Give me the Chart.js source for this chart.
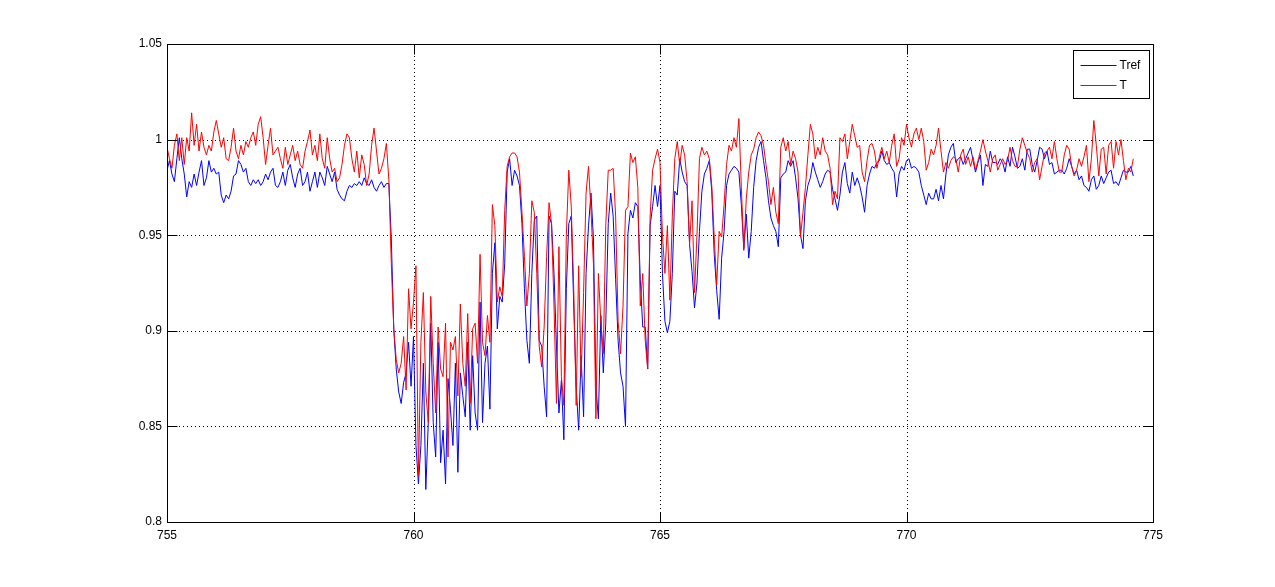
<!DOCTYPE html>
<html>
<head>
<meta charset="utf-8">
<title>Tref / T</title>
<script src="https://cdn.jsdelivr.net/npm/chart.js@4/dist/chart.umd.min.js"></script>
<style>
  html, body { margin: 0; padding: 0; background: #fff; }
  canvas { display: block; }
</style>
</head>
<body>
<canvas id="chart" width="1275" height="587"></canvas>
<script>
const xTicks = [755, 760, 765, 770, 775];
const yTicks = [0.8, 0.85, 0.9, 0.95, 1, 1.05];
const yTickLabels = ['0.8', '0.85', '0.9', '0.95', '1', '1.05'];
const seriesLabels = ['Tref', 'T'];
const seriesColors = ['#0000ff', '#ff0000'];

// samples every 0.05 starting at 755
const sampleStart = 755;
const sampleStep = 0.05;

const trefValues = [
  // 755.00 - 759.45
  0.984, 0.989, 0.982, 0.978, 0.990, 1.001, 0.990, 0.982, 0.970, 0.978,
  0.975, 0.982, 0.976, 0.983, 0.989, 0.976, 0.980, 0.989, 0.983, 0.985,
  0.982, 0.983, 0.971, 0.967, 0.971, 0.969, 0.973, 0.981, 0.982, 0.989,
  0.987, 0.983, 0.985, 0.978, 0.976, 0.979, 0.977, 0.979, 0.976, 0.978,
  0.982, 0.979, 0.983, 0.985, 0.976, 0.975, 0.978, 0.983, 0.976, 0.984,
  0.987, 0.980, 0.975, 0.982, 0.985, 0.976, 0.978, 0.983, 0.973, 0.978,
  0.983, 0.975, 0.983, 0.980, 0.976, 0.986, 0.982, 0.978, 0.983, 0.974,
  0.971, 0.969, 0.968, 0.973, 0.976, 0.975, 0.977, 0.976, 0.978, 0.976,
  0.980, 0.977, 0.976, 0.979, 0.975, 0.973, 0.976, 0.978, 0.975, 0.977,
  // 759.50 - 762.00
  0.977, 0.948, 0.901, 0.880, 0.868, 0.862, 0.873, 0.878, 0.894, 0.871,
  0.897, 0.840, 0.820, 0.840, 0.883, 0.817, 0.852, 0.904, 0.852, 0.834,
  0.894, 0.831, 0.848, 0.820, 0.875, 0.859, 0.840, 0.883, 0.826, 0.878,
  0.866, 0.855, 0.894, 0.848, 0.887, 0.857, 0.848, 0.915, 0.852, 0.883,
  0.892, 0.859, 0.930, 0.946, 0.901, 0.918, 0.915, 0.935, 0.983, 0.990,
  0.976,
  // 762.05 - 765.00
  0.984, 0.981, 0.976, 0.956, 0.922, 0.895, 0.883, 0.930, 0.958, 0.960,
  0.895, 0.892, 0.871, 0.855, 0.960, 0.956, 0.930, 0.892, 0.857, 0.874,
  0.843, 0.922, 0.956, 0.960, 0.913, 0.871, 0.848, 0.887, 0.855, 0.930,
  0.955, 0.972, 0.948, 0.871, 0.854, 0.908, 0.878, 0.904, 0.956, 0.972,
  0.960, 0.927, 0.895, 0.878, 0.871, 0.850, 0.951, 0.963, 0.959, 0.967,
  0.965, 0.927, 0.902, 0.902, 0.880, 0.955, 0.965, 0.976, 0.965, 0.976,
  // 765.05 - 768.45
  0.930, 0.905, 0.899, 0.905, 0.930, 0.973, 0.971, 0.990, 0.983, 0.978,
  0.976, 0.945, 0.931, 0.912, 0.925, 0.952, 0.973, 0.982, 0.985, 0.989,
  0.973, 0.940, 0.921, 0.906, 0.938, 0.952, 0.976, 0.982, 0.984, 0.986,
  0.985, 0.983, 0.966, 0.943, 0.961, 0.938, 0.952, 0.975, 0.989, 0.996,
  0.999, 0.989, 0.980, 0.968, 0.959, 0.955, 0.952, 0.944, 0.980, 0.982,
  0.983, 0.989, 0.986, 0.989, 0.980, 0.969, 0.950, 0.943, 0.968, 0.976,
  0.980, 0.988, 0.983, 0.979, 0.975, 0.978, 0.982, 0.984, 0.983,
  // 768.50 - 774.60
  0.974, 0.969, 0.963, 0.971, 0.983, 0.988, 0.977, 0.972, 0.983, 0.976,
  0.980, 0.976, 0.970, 0.962, 0.976, 0.982, 0.986, 0.985, 0.988, 0.989,
  0.994, 0.989, 0.987, 0.988, 0.985, 0.983, 0.970, 0.982, 0.986, 0.984,
  0.989, 0.990, 0.985, 0.986, 0.985, 0.983, 0.976, 0.971, 0.966, 0.972,
  0.969, 0.969, 0.974, 0.968, 0.976, 0.969, 0.982, 0.992, 0.996, 0.998,
  0.988, 0.990, 0.991, 0.987, 0.990, 0.993, 0.996, 0.989, 0.983, 0.988,
  0.992, 0.976, 0.987, 0.986, 0.994, 0.988, 0.988, 0.987, 0.990, 0.988,
  0.983, 0.991, 0.986, 0.996, 0.991, 0.985, 0.986, 0.990, 0.984, 0.995,
  0.995, 0.987, 0.983, 0.989, 0.996, 0.995, 0.990, 0.994, 0.987, 0.988,
  0.982, 0.983, 0.984, 0.984, 0.982, 0.985, 0.990, 0.986, 0.982, 0.984,
  0.979, 0.981, 0.976, 0.975, 0.973, 0.979, 0.981, 0.974, 0.976, 0.981,
  0.977, 0.980, 0.983, 0.984, 0.977, 0.978, 0.976, 0.980, 0.984, 0.983,
  0.983, 0.986, 0.981
];

const tValues = [
  // 755.00 - 759.45
  0.996, 0.990, 0.985, 0.997, 1.003, 0.989, 1.001, 0.987, 1.001, 0.994,
  1.014, 0.997, 1.008, 0.994, 1.004, 0.996, 0.992, 0.997, 0.994, 1.004,
  1.010, 1.003, 0.996, 1.001, 0.990, 0.989, 0.996, 1.006, 0.994, 0.990,
  0.997, 0.992, 0.999, 0.996, 1.001, 1.004, 0.997, 1.008, 1.012, 1.001,
  0.987, 0.997, 1.006, 0.992, 0.994, 0.996, 0.990, 0.985, 0.996, 0.987,
  0.992, 0.997, 0.989, 0.994, 0.987, 0.985, 0.994, 0.999, 1.005, 0.992,
  0.997, 0.989, 1.003, 0.990, 0.985, 1.001, 0.990, 0.983, 0.985, 0.978,
  0.980, 0.987, 0.997, 1.003, 1.001, 0.990, 0.983, 0.994, 0.980, 0.992,
  0.987, 0.976, 0.982, 0.997, 1.006, 0.994, 0.982, 0.985, 0.990, 0.998,
  // 759.50 - 762.00
  0.979, 0.935, 0.901, 0.885, 0.878, 0.883, 0.897, 0.869, 0.922, 0.901,
  0.915, 0.934, 0.824, 0.894, 0.920, 0.868, 0.852, 0.918, 0.883, 0.857,
  0.902, 0.880, 0.876, 0.904, 0.834, 0.894, 0.890, 0.897, 0.866, 0.914,
  0.883, 0.871, 0.909, 0.862, 0.901, 0.904, 0.883, 0.940, 0.894, 0.887,
  0.908, 0.894, 0.966, 0.955, 0.915, 0.923, 0.918, 0.963, 0.986, 0.991,
  0.993,
  // 762.05 - 765.00
  0.993, 0.991, 0.983, 0.962, 0.939, 0.913, 0.930, 0.968, 0.962, 0.930,
  0.892, 0.881, 0.902, 0.939, 0.967, 0.956, 0.913, 0.862, 0.944, 0.876,
  0.861, 0.950, 0.984, 0.965, 0.922, 0.861, 0.934, 0.876, 0.920, 0.972,
  0.986, 0.963, 0.935, 0.854, 0.930, 0.905, 0.888, 0.955, 0.984, 0.984,
  0.985, 0.960, 0.905, 0.888, 0.913, 0.963, 0.965, 0.993, 0.988, 0.991,
  0.975, 0.913, 0.930, 0.895, 0.880, 0.960, 0.984, 0.990, 0.995, 0.988,
  // 765.05 - 768.45
  0.950, 0.930, 0.955, 0.916, 0.960, 0.990, 0.999, 0.987, 0.997, 0.992,
  0.978, 0.945, 0.968, 0.920, 0.950, 0.990, 0.996, 0.992, 0.994, 0.990,
  0.976, 0.949, 0.924, 0.952, 0.949, 0.966, 0.987, 0.997, 0.994, 1.001,
  0.996, 1.011, 0.975, 0.942, 0.969, 0.983, 0.992, 0.995, 1.001, 1.004,
  1.002, 0.997, 0.987, 0.978, 0.966, 0.975, 0.962, 0.956, 0.996, 1.001,
  0.994, 0.999, 0.987, 0.994, 0.990, 0.983, 0.949, 0.962, 0.975, 0.992,
  1.008, 1.003, 0.990, 0.996, 0.992, 1.001, 0.994, 0.992, 0.985,
  // 768.50 - 774.60
  0.966, 0.973, 0.969, 1.001, 0.999, 1.003, 0.990, 0.999, 1.008, 1.002,
  0.996, 0.997, 0.983, 0.978, 0.989, 0.997, 0.998, 0.994, 0.985, 0.991,
  0.996, 0.990, 0.994, 0.988, 0.997, 1.003, 0.986, 0.990, 1.001, 0.997,
  1.008, 1.001, 0.996, 1.003, 1.006, 1.000, 1.006, 0.999, 0.984, 0.988,
  0.995, 0.992, 0.997, 1.006, 0.994, 0.983, 0.988, 0.985, 0.989, 0.991,
  0.990, 0.983, 0.992, 0.995, 0.987, 0.991, 0.986, 0.991, 0.984, 0.989,
  0.994, 1.000, 0.994, 0.989, 0.983, 0.990, 0.992, 0.984, 0.987, 0.990,
  0.987, 0.989, 0.996, 0.989, 0.986, 0.986, 0.995, 1.001, 0.997, 0.993,
  0.990, 0.983, 0.988, 0.990, 0.979, 0.986, 0.993, 0.994, 0.996, 0.990,
  0.999, 0.990, 0.983, 0.983, 0.992, 0.997, 0.995, 0.986, 0.981, 0.984,
  0.990, 0.986, 0.991, 0.997, 0.978, 0.990, 1.010, 0.997, 0.981, 0.995,
  0.996, 0.982, 0.997, 0.999, 0.985, 0.999, 0.992, 1.000, 0.989, 0.979,
  0.985, 0.983, 0.990
];

const wavelengths = tValues.map((_, i) => +(sampleStart + i * sampleStep).toFixed(2));

function toPoints(values) {
  return values.map((v, i) => ({ x: wavelengths[i], y: v }));
}

const FONT = '"Liberation Sans", Arial, sans-serif';

// MATLAB style box, inward ticks, dotted grid and legend
const matlabAxes = {
  id: 'matlabAxes',
  beforeDatasetsDraw(chart) {
    const { ctx, chartArea: a, scales } = chart;
    ctx.save();
    ctx.strokeStyle = '#000';
    ctx.lineWidth = 1;
    ctx.setLineDash([1, 3]);
    ctx.beginPath();
    xTicks.slice(1, -1).forEach((v) => {
      const px = Math.round(scales.x.getPixelForValue(v)) + 0.5;
      ctx.moveTo(px, a.top);
      ctx.lineTo(px, a.bottom);
    });
    yTicks.slice(1, -1).forEach((v) => {
      const py = Math.round(scales.y.getPixelForValue(v)) + 0.5;
      ctx.moveTo(a.left, py);
      ctx.lineTo(a.right, py);
    });
    ctx.stroke();
    ctx.restore();
  },
  afterDatasetsDraw(chart) {
    const { ctx, chartArea: a, scales } = chart;
    const L = Math.round(a.left) + 0.5;
    const R = Math.round(a.right) + 0.5;
    const T = Math.round(a.top) + 0.5;
    const B = Math.round(a.bottom) + 0.5;
    const tickLen = 10;

    ctx.save();
    ctx.strokeStyle = '#000';
    ctx.lineWidth = 1;
    ctx.strokeRect(L, T, R - L, B - T);

    ctx.beginPath();
    xTicks.forEach((v) => {
      const px = Math.round(scales.x.getPixelForValue(v)) + 0.5;
      ctx.moveTo(px, B);
      ctx.lineTo(px, B - tickLen);
      ctx.moveTo(px, T);
      ctx.lineTo(px, T + tickLen);
    });
    yTicks.forEach((v) => {
      const py = Math.round(scales.y.getPixelForValue(v)) + 0.5;
      ctx.moveTo(L, py);
      ctx.lineTo(L + tickLen, py);
      ctx.moveTo(R, py);
      ctx.lineTo(R - tickLen, py);
    });
    ctx.stroke();

    // legend box in the upper right corner
    const boxW = 76;
    const boxH = 48;
    const boxX = R - 80;
    const boxY = T + 6;
    ctx.fillStyle = '#fff';
    ctx.fillRect(boxX, boxY, boxW, boxH);
    ctx.strokeRect(boxX, boxY, boxW, boxH);

    ctx.font = '12px ' + FONT;
    ctx.textBaseline = 'middle';
    chart.data.datasets.forEach((ds, i) => {
      const ly = Math.round(boxY + 14 + i * 20) + 0.5;
      ctx.strokeStyle = ds.borderColor;
      ctx.beginPath();
      ctx.moveTo(boxX + 7, ly);
      ctx.lineTo(boxX + 43, ly);
      ctx.stroke();
      ctx.fillStyle = '#000';
      ctx.fillText(ds.label, boxX + 46, ly);
    });
    ctx.restore();
  }
};

new Chart(document.getElementById('chart'), {
  type: 'line',
  data: {
    datasets: [
      {
        label: seriesLabels[0],
        data: toPoints(trefValues),
        borderColor: seriesColors[0],
        borderWidth: 1,
        pointRadius: 0,
        tension: 0,
        order: 2,
      },
      {
        label: seriesLabels[1],
        data: toPoints(tValues),
        borderColor: seriesColors[1],
        borderWidth: 1,
        pointRadius: 0,
        tension: 0,
        order: 1,
      },
    ],
  },
  options: {
    responsive: false,
    animation: false,
    layout: { padding: { left: 0, right: 122, top: 44, bottom: 0 } },
    plugins: {
      legend: { display: false },
      tooltip: { enabled: false },
    },
    scales: {
      x: {
        type: 'linear',
        min: 755,
        max: 775,
        grid: { display: false, drawTicks: false },
        border: { display: false },
        afterBuildTicks: (s) => { s.ticks = xTicks.map((v) => ({ value: v })); },
        afterFit: (s) => { s.height = 65; },
        ticks: {
          color: '#000',
          font: { family: FONT, size: 12 },
          padding: 6,
          maxRotation: 0,
          autoSkip: false,
          callback: (v) => String(v),
        },
      },
      y: {
        type: 'linear',
        min: 0.8,
        max: 1.05,
        grid: { display: false, drawTicks: false },
        border: { display: false },
        afterBuildTicks: (s) => { s.ticks = yTicks.map((v) => ({ value: v })); },
        afterFit: (s) => { s.width = 167; },
        ticks: {
          color: '#000',
          font: { family: FONT, size: 12 },
          padding: 5,
          autoSkip: false,
          callback: (v, i) => yTickLabels[i],
        },
      },
    },
  },
  plugins: [matlabAxes],
});
</script>
</body>
</html>
